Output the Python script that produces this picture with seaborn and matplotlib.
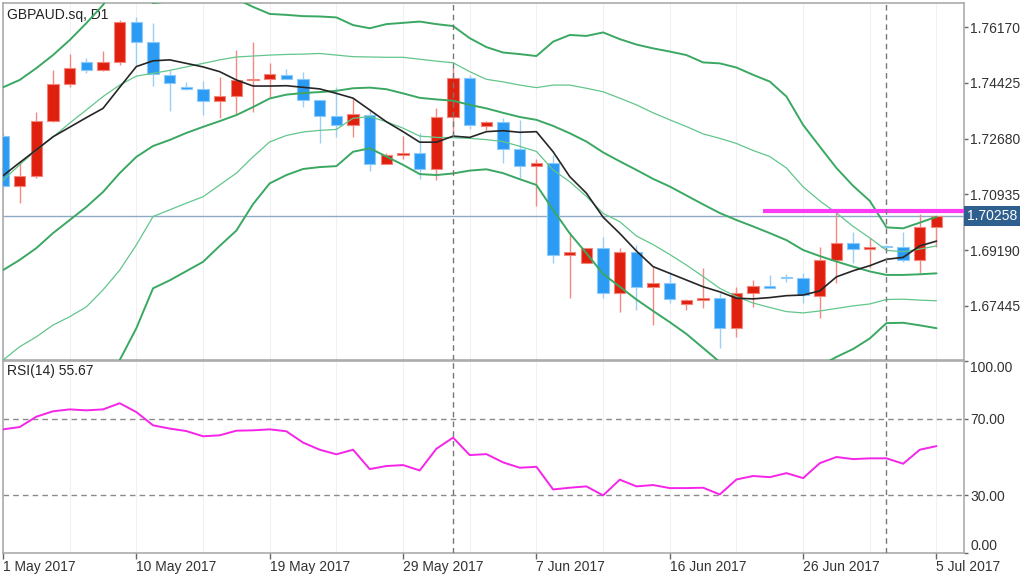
import numpy as np
import pandas as pd
import matplotlib
matplotlib.use("Agg")
import matplotlib.pyplot as plt
import matplotlib.transforms as mtransforms
import seaborn as sns

# ---------------- data ----------------
all_days = pd.date_range("2017-05-01", "2017-07-05", freq="D")
dates = all_days[all_days.weekday != 5]          # broker feed: Sun-Fri bars

opens = [1.72764, 1.71206, 1.71520, 1.73243, 1.74393, 1.75074, 1.74842, 1.75074, 1.76346, 1.75700,
         1.74685, 1.74290, 1.74227, 1.73851, 1.74027, 1.74509, 1.74550, 1.74666, 1.74550, 1.73883,
         1.73391, 1.73099, 1.73422, 1.71886, 1.72168, 1.72231, 1.71720, 1.73369, 1.74572, 1.73087,
         1.73203, 1.72356, 1.71824, 1.71918, 1.69034, 1.68793, 1.69244, 1.67834, 1.69119, 1.68031,
         1.68147, 1.67499, 1.67633, 1.67677, 1.66737, 1.67853, 1.68072, 1.68335, 1.68304, 1.67749,
         1.68878, 1.69420, 1.69213, 1.69301, 1.69294, 1.68878, 1.69902]
highs = [1.72858, 1.71980, 1.73525, 1.74832, 1.75334, 1.75199, 1.75428, 1.76399, 1.76484, 1.76315,
         1.74832, 1.74456, 1.74497, 1.74603, 1.75459, 1.75719, 1.75061, 1.74854, 1.74779, 1.73892,
         1.74290, 1.73945, 1.73619, 1.72222, 1.72764, 1.72867, 1.73651, 1.74895, 1.74676, 1.73243,
         1.73319, 1.73265, 1.72033, 1.72168, 1.69765, 1.69254, 1.69589, 1.69244, 1.69348, 1.68668,
         1.68511, 1.67655, 1.68618, 1.67834, 1.68041, 1.68251, 1.68408, 1.68429, 1.68461, 1.69294,
         1.70391, 1.69765, 1.69558, 1.69348, 1.69765, 1.70319, 1.70270]
lows = [1.71134, 1.70664, 1.71438, 1.73218, 1.74290, 1.74729, 1.74801, 1.74989, 1.74989, 1.74331,
        1.73547, 1.74221, 1.73422, 1.73337, 1.73444, 1.73516, 1.73977, 1.74550, 1.73682, 1.72554,
        1.72723, 1.72723, 1.71676, 1.71871, 1.72033, 1.71407, 1.71385, 1.72795, 1.72974, 1.72952,
        1.71908, 1.71438, 1.70570, 1.68774, 1.67696, 1.68784, 1.67696, 1.67257, 1.67311, 1.66841,
        1.67521, 1.67311, 1.67364, 1.66110, 1.66474, 1.67414, 1.67991, 1.68198, 1.67521, 1.67051,
        1.68166, 1.68774, 1.68618, 1.69244, 1.68806, 1.68480, 1.69294]
closes = [1.71206, 1.71520, 1.73243, 1.74393, 1.74904, 1.74832, 1.75074, 1.76346, 1.75700, 1.74707,
          1.74415, 1.74227, 1.73851, 1.74008, 1.74519, 1.74550, 1.74707, 1.74560, 1.73883, 1.73400,
          1.73099, 1.73444, 1.71886, 1.72159, 1.72231, 1.71729, 1.73359, 1.74572, 1.73099, 1.73203,
          1.72356, 1.71824, 1.71918, 1.69034, 1.69138, 1.69244, 1.67834, 1.69119, 1.68041, 1.68147,
          1.67646, 1.67615, 1.67687, 1.66737, 1.67834, 1.68072, 1.67991, 1.68314, 1.67781, 1.68878,
          1.69420, 1.69213, 1.69294, 1.69285, 1.68878, 1.69902, 1.70258]

ma_line = [1.7152, 1.7193, 1.7233, 1.7274, 1.7304, 1.7334, 1.7363, 1.7429, 1.7494, 1.7512,
           1.7515, 1.7504, 1.7493, 1.7478, 1.7452, 1.7433, 1.7433, 1.7434, 1.7429, 1.7424,
           1.7410, 1.7395, 1.7358, 1.7321, 1.7290, 1.7257, 1.7257, 1.7276, 1.7272, 1.7290,
           1.7293, 1.7288, 1.7290, 1.7227, 1.7149, 1.7097, 1.7022, 1.6971, 1.6916, 1.6867,
           1.6846, 1.6825, 1.6804, 1.6788, 1.6768, 1.6766, 1.6770, 1.6776, 1.6778, 1.6791,
           1.6835, 1.6854, 1.6870, 1.6890, 1.6896, 1.6932, 1.6947]

bb_upper2 = [1.7429, 1.7452, 1.7489, 1.7530, 1.7577, 1.7630, 1.7687, 1.7768, 1.7762, 1.7693,
             1.7699, 1.7725, 1.7740, 1.7725, 1.7706, 1.7681, 1.7659, 1.7656, 1.7652, 1.7651,
             1.7648, 1.7624, 1.7614, 1.7627, 1.7631, 1.7635, 1.7627, 1.7621, 1.7583, 1.7555,
             1.7538, 1.7533, 1.7527, 1.7572, 1.7593, 1.7590, 1.7601, 1.7580, 1.7563, 1.7551,
             1.7541, 1.7530, 1.7507, 1.7504, 1.7491, 1.7468, 1.7447, 1.7400, 1.7311, 1.7243,
             1.7176, 1.7120, 1.7073, 1.6990, 1.6987, 1.7005, 1.7023]
bb_upper1 = [1.7138, 1.7186, 1.7233, 1.7273, 1.7317, 1.7358, 1.7400, 1.7436, 1.7464, 1.7473,
             1.7482, 1.7493, 1.7504, 1.7515, 1.7524, 1.7527, 1.7530, 1.7532, 1.7533, 1.7535,
             1.7530, 1.7525, 1.7524, 1.7523, 1.7523, 1.7517, 1.7511, 1.7506, 1.7478, 1.7454,
             1.7446, 1.7436, 1.7428, 1.7436, 1.7436, 1.7426, 1.7415, 1.7395, 1.7374, 1.7349,
             1.7327, 1.7306, 1.7283, 1.7269, 1.7253, 1.7231, 1.7212, 1.7176, 1.7117, 1.7073,
             1.7035, 1.6993, 1.6957, 1.6918, 1.6914, 1.6922, 1.6932]
bb_mid = [1.6856, 1.6888, 1.6925, 1.6972, 1.7013, 1.7054, 1.7101, 1.7160, 1.7211, 1.7245,
          1.7264, 1.7286, 1.7305, 1.7323, 1.7342, 1.7367, 1.7394, 1.7406, 1.7411, 1.7414,
          1.7418, 1.7426, 1.7428, 1.7423, 1.7410, 1.7396, 1.7391, 1.7387, 1.7374, 1.7363,
          1.7349, 1.7336, 1.7327, 1.7308, 1.7285, 1.7259, 1.7225, 1.7197, 1.7170, 1.7142,
          1.7118, 1.7090, 1.7062, 1.7035, 1.7013, 1.6993, 1.6972, 1.6950, 1.6919, 1.6900,
          1.6883, 1.6867, 1.6852, 1.6841, 1.6841, 1.6843, 1.6846]
bb_lower1 = [1.6574, 1.6616, 1.6647, 1.6684, 1.6710, 1.6741, 1.6794, 1.6856, 1.6935, 1.7024,
             1.7045, 1.7066, 1.7086, 1.7123, 1.7160, 1.7211, 1.7258, 1.7278, 1.7289, 1.7294,
             1.7297, 1.7332, 1.7337, 1.7321, 1.7301, 1.7276, 1.7272, 1.7271, 1.7269, 1.7265,
             1.7259, 1.7244, 1.7228, 1.7170, 1.7133, 1.7087, 1.7034, 1.7008, 1.6963, 1.6936,
             1.6905, 1.6872, 1.6836, 1.6799, 1.6773, 1.6753, 1.6739, 1.6726, 1.6722, 1.6728,
             1.6736, 1.6744, 1.6750, 1.6764, 1.6765, 1.6762, 1.6760]
bb_lower2 = [1.6292, 1.6292, 1.6311, 1.6377, 1.6399, 1.6433, 1.6505, 1.6574, 1.6674, 1.6799,
             1.6824, 1.6853, 1.6882, 1.6932, 1.6980, 1.7063, 1.7128, 1.7154, 1.7173, 1.7179,
             1.7182, 1.7227, 1.7238, 1.7212, 1.7186, 1.7157, 1.7154, 1.7159, 1.7168, 1.7172,
             1.7160, 1.7141, 1.7123, 1.7045, 1.6971, 1.6909, 1.6844, 1.6804, 1.6764, 1.6728,
             1.6693, 1.6656, 1.6612, 1.6568, 1.6534, 1.6513, 1.6505, 1.6502, 1.6524, 1.6556,
             1.6584, 1.6609, 1.6642, 1.6690, 1.6691, 1.6683, 1.6674]

rsi = [64.4, 65.6, 71.0, 73.8, 74.8, 74.3, 74.8, 78.0, 73.4, 66.5,
       64.8, 63.5, 60.8, 61.3, 63.7, 63.9, 64.4, 63.4, 57.5, 53.8,
       51.4, 53.8, 43.7, 45.3, 45.8, 43.0, 54.3, 60.1, 51.0, 51.5,
       47.2, 44.4, 44.9, 33.1, 34.0, 34.7, 30.0, 38.2, 34.7, 35.4,
       33.8, 33.8, 34.0, 30.5, 38.3, 40.1, 39.5, 41.6, 39.0, 46.8,
       50.0, 48.9, 49.3, 49.3, 46.5, 53.8, 55.67]

price_ticks = [1.76170, 1.74425, 1.72680, 1.70935, 1.69190, 1.67445]
rsi_ticks = [0, 30, 70, 100]
rsi_levels = [30, 70]
last_price = 1.70258
resistance_level = 1.70423
resistance_from_bar = 45.6          # drawn from the 22 Jun bar onwards
date_tick_idx = [0, 8, 16, 24, 32, 40, 48, 56]
symbol_title = "GBPAUD.sq, D1"
rsi_title = "RSI(14) 55.67"

# ---------------- styling ----------------
sns.set_style("white")
plt.rcParams["font.family"] = ["Liberation Sans", "DejaVu Sans"]

RED, RED_EDGE, RED_WICK = "#e0200f", "#f2867c", "#f08a82"
BLUE, BLUE_EDGE, BLUE_WICK = "#2c9bf4", "#8ccaf9", "#9ccff8"
G_THICK, G_THIN = "#3aa862", "#62c68c"
SPINE = "#ababab"
TXT = "#333333"
FS = 10

fig = plt.figure(figsize=(10.24, 5.76), dpi=100)
ax = fig.add_axes([3 / 1024, 1 - 360 / 576, 961 / 1024, 357 / 576])
ax2 = fig.add_axes([3 / 1024, 1 - 553 / 576, 961 / 1024, 192 / 576])

x = np.arange(len(dates))
o = np.array(opens); h = np.array(highs); l = np.array(lows); c = np.array(closes)
up = c >= o

# faint vertical grid
for a in (ax, ax2):
    for gx in range(0, len(x) + 1, 4):
        a.axvline(gx, color="#f1f1f1", lw=0.8, zorder=0)

# candles
wick_cols = np.where(up, RED_WICK, BLUE_WICK)
ax.vlines(x, l, h, colors=wick_cols, lw=1.0, zorder=2)
body_bottom = np.minimum(o, c)
body_h = np.maximum(np.abs(c - o), 0.00035)
ax.bar(x, body_h, bottom=body_bottom, width=0.68,
       color=np.where(up, RED, BLUE), edgecolor=np.where(up, RED_EDGE, BLUE_EDGE),
       linewidth=0.8, zorder=3)

# bands and moving average
for arr, lw, col in [(bb_upper2, 1.4, G_THICK), (bb_upper1, 0.9, G_THIN), (bb_mid, 1.4, G_THICK),
                     (bb_lower1, 0.9, G_THIN), (bb_lower2, 1.4, G_THICK)]:
    sns.lineplot(x=x, y=arr, ax=ax, color=col, linewidth=lw, legend=False, zorder=4)
sns.lineplot(x=x, y=ma_line, ax=ax, color="#262626", linewidth=1.2, legend=False, zorder=5)

xmax = 57.65
ax.axhline(last_price, color="#8ea9c6", lw=1.0, zorder=1)
ax.hlines(resistance_level, resistance_from_bar, xmax, color="#ff3cf5", lw=3, zorder=6)

# month separators
for a in (ax, ax2):
    for i, d in enumerate(dates):
        if i > 0 and d.month != dates[i - 1].month:
            a.axvline(i, color="#777777", lw=1.0, ls=(0, (4, 3)), zorder=7)

ax.set_xlim(0, xmax)
ax.set_ylim(1.65744, 1.76932)
ax.set_xticks([])
ax.set_xlabel("")
ax.set_ylabel("")
ax.yaxis.tick_right()
ax.set_yticks(price_ticks)
ax.set_yticklabels([f"{v:.5f}" for v in price_ticks])
ax.tick_params(axis="y", which="both", right=True, left=False, length=3, width=1,
               color="#666666", labelsize=FS, labelcolor=TXT, pad=1.5)

lbl_tr = mtransforms.blended_transform_factory(ax.transAxes, ax.transData)
ax.text(1.003, last_price, f"{last_price:.5f}", transform=lbl_tr, ha="left", va="center",
        fontsize=FS, color="white", zorder=10, clip_on=False,
        bbox=dict(boxstyle="square,pad=0.2", fc="#2f5f8f", ec="none"))
ax.text(0.004, 0.987, symbol_title, transform=ax.transAxes, ha="left", va="top",
        fontsize=FS, color="#222222")

# RSI panel
sns.lineplot(x=x, y=rsi, ax=ax2, color="#f624e8", linewidth=1.4, legend=False, zorder=5)
for lv in rsi_levels:
    ax2.axhline(lv, color="#8a8a8a", lw=1.0, ls=(0, (4, 3)), zorder=1)
ax2.set_xlim(0, xmax)
ax2.set_ylim(0, 100)
ax2.set_xlabel("")
ax2.set_ylabel("")
ax2.yaxis.tick_right()
ax2.set_yticks(rsi_ticks)
ax2.set_yticklabels([f"{v:.2f}" for v in rsi_ticks])
ax2.tick_params(axis="y", right=True, left=False, length=3, width=1, color="#666666",
                labelsize=FS, labelcolor=TXT, pad=1.5)
for t, v in zip(ax2.get_yticklabels(), rsi_ticks):
    if v == 100:
        t.set_va("top")
    elif v == 0:
        t.set_va("bottom")
ax2.set_xticks(date_tick_idx)
ax2.set_xticklabels([f"{dates[i].day} {dates[i].strftime('%b %Y')}" for i in date_tick_idx],
                    ha="left")
ax2.tick_params(axis="x", bottom=True, length=4, width=1, color="#666666",
                labelsize=FS, labelcolor=TXT, pad=1)
ax2.text(0.004, 0.985, rsi_title, transform=ax2.transAxes, ha="left", va="top",
         fontsize=FS, color="#222222")

for a in (ax, ax2):
    for s in a.spines.values():
        s.set_color(SPINE)
        s.set_linewidth(1.2)
        s.set_visible(True)

fig.savefig("out.png", dpi=100, facecolor="white")
